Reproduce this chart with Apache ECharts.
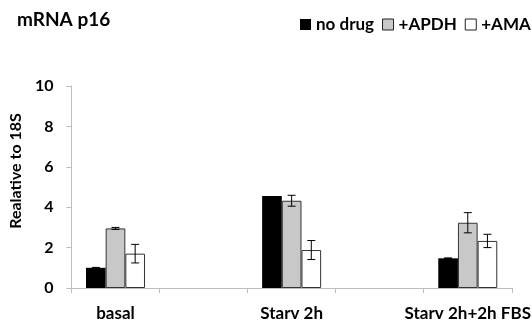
<!DOCTYPE html>
<html><head><meta charset="utf-8">
<script src="https://cdn.jsdelivr.net/npm/echarts@6/dist/echarts.min.js"></script>
<style>html,body{margin:0;padding:0;background:#fff}#c{width:532px;height:324px}</style>
</head><body><div id="c"></div>
<script>
var categories = ['basal', '', 'Starv 2h', '', 'Starv 2h+2h FBS'];
var seriesNames = ['no drug', '+APDH', '+AMA'];
var noDrug = [1.0, null, 4.55, null, 1.47];
var apdh = [2.95, null, 4.32, null, 3.23];
var ama = [1.7, null, 1.88, null, 2.33];
var noDrugErr = [0.02, null, 0, null, 0.02];
var apdhErr = [0.05, null, 0.27, null, 0.5];
var amaErr = [0.46, null, 0.47, null, 0.33];
var yTicks = [0, 2, 4, 6, 8, 10];

var FONT = 'Lato, "Open Sans", sans-serif';
var chart = echarts.init(document.getElementById('c'));
var values = [noDrug, apdh, ama];
var errs = [noDrugErr, apdhErr, amaErr];
var colors = ['#000000', '#c8c8c8', '#ffffff'];
var GAP = 0.33;

function errSeries(si) {
  var data = [];
  categories.forEach(function (c, i) {
    if (values[si][i] != null && errs[si][i]) data.push([i, values[si][i], errs[si][i]]);
  });
  return {
    type: 'custom', name: seriesNames[si] + ' err', z: 10, silent: true,
    data: data,
    renderItem: function (params, api) {
      var x = api.value(0), v = api.value(1), e = api.value(2);
      var band = api.size([1, 0])[0];
      var w = band * (1 - GAP) / 3;
      var c = api.coord([x, v]);
      var cx = c[0] + (si - 1) * w;
      var top = api.coord([x, v + e])[1];
      var bot = api.coord([x, v - e])[1];
      var cap = 4;
      var st = { stroke: '#000', lineWidth: 1 };
      return { type: 'group', children: [
        { type: 'line', shape: { x1: cx, y1: top, x2: cx, y2: bot }, style: st },
        { type: 'line', shape: { x1: cx - cap, y1: top, x2: cx + cap, y2: top }, style: st },
        { type: 'line', shape: { x1: cx - cap, y1: bot, x2: cx + cap, y2: bot }, style: st }
      ]};
    }
  };
}

var series = [];
seriesNames.forEach(function (n, si) {
  series.push({
    type: 'bar', name: n, data: values[si],
    barGap: '0%', barCategoryGap: (GAP * 100) + '%',
    itemStyle: { color: colors[si], borderColor: si === 0 ? '#000' : '#333', borderWidth: si === 0 ? 0 : 1 }
  });
});
seriesNames.forEach(function (n, si) { series.push(errSeries(si)); });

chart.setOption({
  animation: false,
  backgroundColor: '#fff',
  title: { text: 'mRNA p16', left: 12, top: 5,
    textStyle: { fontFamily: FONT, fontWeight: 'bold', fontSize: 19, color: '#000' } },
  legend: {
    data: seriesNames.map(function (n, i) {
      return { name: n, itemStyle: { color: colors[i], borderColor: i === 0 ? '#000' : '#222', borderWidth: i === 0 ? 0 : 1 } };
    }),
    left: 295, top: 11, width: 400, itemWidth: 11, itemHeight: 11, itemGap: 8, icon: 'rect',
    textStyle: { fontFamily: FONT, fontWeight: 'bold', fontSize: 17, color: '#000', padding: [0, 0, 0, 0] }
  },
  grid: { left: 62, right: 10, top: 86, bottom: 36, containLabel: false },
  xAxis: {
    type: 'category', data: categories,
    axisLine: { lineStyle: { color: '#bdbdbd', width: 1 } },
    axisTick: { show: true, alignWithLabel: false, length: 5, lineStyle: { color: '#bdbdbd' } },
    axisLabel: { fontFamily: FONT, fontWeight: 'bold', fontSize: 17, color: '#000', margin: 17, interval: 0 }
  },
  yAxis: {
    type: 'value', min: 0, max: 10, interval: 2,
    name: 'Realative to 18S', nameLocation: 'middle', nameGap: 39, nameRotate: 90,
    nameTextStyle: { fontFamily: FONT, fontWeight: 'bold', fontSize: 16, color: '#000', padding: [0, 0, 0, 32] },
    axisLine: { show: true, lineStyle: { color: '#bdbdbd', width: 1 } },
    axisTick: { show: true, length: 5, lineStyle: { color: '#bdbdbd' } },
    splitLine: { show: false },
    axisLabel: { fontFamily: FONT, fontWeight: 'bold', fontSize: 16, color: '#000', margin: 18,
      formatter: function (v) { return yTicks.indexOf(v) >= 0 ? String(v) : ''; } }
  },
  series: series
});
</script></body></html>
